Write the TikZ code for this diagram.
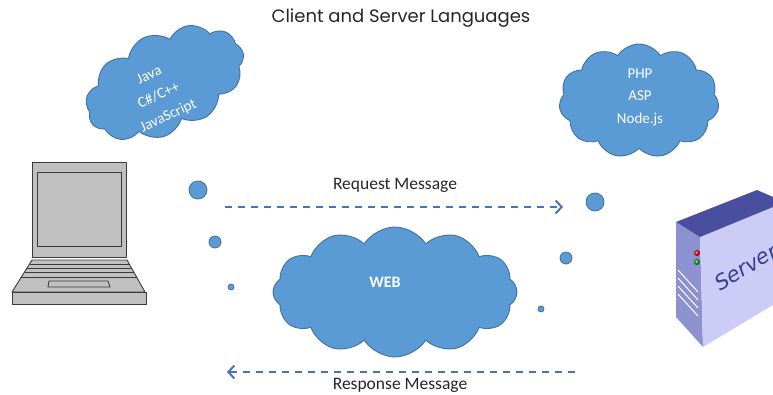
\documentclass[tikz,border=0pt]{standalone}
\usepackage{fontspec}
\setmainfont{Carlito}
\newfontfamily\titlefont{Poppins}
\newfontfamily\serverfont{DejaVu Sans}
\usetikzlibrary{shapes.symbols,arrows.meta}
\definecolor{cloudblue}{HTML}{5B9BD5}
\definecolor{cloudedge}{HTML}{41719C}
\definecolor{arrowblue}{HTML}{4472C4}
\definecolor{lapgray}{HTML}{C0C0C0}
\definecolor{lapedge}{HTML}{3A3A3A}
\definecolor{srvtop}{HTML}{4A4E9E}
\definecolor{srvside}{HTML}{8E91CF}
\definecolor{srvfront}{HTML}{CBCDF7}
\definecolor{srvtext}{HTML}{3A3E92}
\definecolor{labelgray}{HTML}{262626}
\tikzset{
  cloudbox/.style={cloud, cloud puffs=11, cloud puff arc=115, fill=cloudblue,
    draw=cloudedge, line width=0.9pt, inner sep=0pt},
  bubble/.style={circle, fill=cloudblue, draw=cloudedge, line width=0.8pt, inner sep=0pt},
  cloudtext/.style={text=white, font=\fontsize{15}{22.5}\selectfont, align=center},
  msglabel/.style={text=labelgray, font=\fontsize{17.5}{20}\selectfont},
  msgarrow/.style={arrowblue, line width=2pt, dash pattern=on 7pt off 6pt,
    -{Straight Barb[length=6pt,width=13pt,line width=2pt]}},
  lap/.style={fill=lapgray, draw=lapedge, line width=0.9pt, line join=round},
}
\begin{document}
\begin{tikzpicture}[x=1pt,y=-1pt]
\useasboundingbox (0,0) rectangle (773,394);
\clip (0,0) rectangle (773,394);

% title
\node[text=labelgray, font=\titlefont\fontsize{18}{20}\selectfont] (title) at (401,18) {Client and Server Languages};

% client language cloud
\node[cloudbox, minimum width=168pt, minimum height=100pt, rotate=25] (ccloud) at (165,83) {};
\node[cloudtext, rotate=25] (ctext) at (159,96) {Java\\C\#/C++\\JavaScript};

% server language cloud
\node[cloudbox, minimum width=160pt, minimum height=114pt] (scloud) at (639,101) {};
\node[cloudtext] (stext) at (640,97) {PHP\\ASP\\Node.js};

% web cloud
\node[cloudbox, cloud puffs=12, minimum width=244pt, minimum height=130pt] (web) at (395,292) {};
\node[text=white, font=\bfseries\fontsize{16}{18}\selectfont] (webtext) at (385,282) {WEB};

% thought bubbles
\node[bubble, minimum size=18pt] (b1) at (198,190) {};
\node[bubble, minimum size=12pt] (b2) at (215,242) {};
\node[bubble, minimum size=6pt] (b3) at (231,287) {};
\node[bubble, minimum size=18pt] (b4) at (595,202) {};
\node[bubble, minimum size=12pt] (b5) at (566,258) {};
\node[bubble, minimum size=6pt] (b6) at (541,309) {};

% messages
\coordinate (reqA) at (225,207);
\coordinate (reqB) at (563,207);
\coordinate (resA) at (575,372);
\coordinate (resB) at (227,372);
\draw[msgarrow] (reqA) -- (reqB);
\draw[msgarrow] (resA) -- (resB);
\node[msglabel] (reqlabel) at (395,185) {Request Message};
\node[msglabel] (reslabel) at (400,385) {Response Message};

% laptop
\draw[lap] (32,162) rectangle (126,257);
\draw[lap] (37,172) rectangle (121,246);
\draw[lap] (32,260) -- (127,260) -- (145,292) -- (12,292) -- cycle;
\foreach \yy in {264,268,272,277}{
  \draw[lapedge, line width=0.9pt] ({32-(\yy-260)*0.625},\yy) -- ({127+(\yy-260)*0.5625},\yy);
}
\draw[lap] (49,281) -- (108,281) -- (110,287) -- (48,287) -- cycle;
\draw[lap] (12,292) rectangle (146,304);

% server
\fill[srvside] (676,222) -- (700,237) -- (703,347) -- (676,317) -- cycle;
\fill[srvfront] (700,237) -- (773,207) -- (773,305) -- (703,347) -- cycle;
\fill[srvtop] (676,222) -- (757,190) -- (773,197) -- (773,207) -- (700,237) -- cycle;
\foreach \k in {0,1,2,3}{
  \draw[white, line width=1pt] (678,{270+8*\k}) -- (698,{292+8*\k});
}
\shade[ball color=red] (697,253) circle (3pt);
\shade[ball color=green!70!black] (697,262) circle (3pt);
\node[text=srvtext, font=\serverfont\itshape\fontsize{21}{24}\selectfont, rotate=31] (srvlabel) at (746,267) {Server};
\end{tikzpicture}
\end{document}
